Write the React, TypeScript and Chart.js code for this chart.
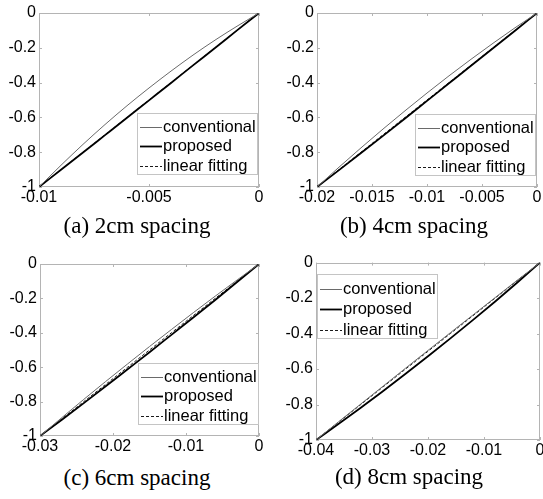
import React, { useEffect, useRef } from "react";
import { Chart, registerables } from "chart.js";
Chart.register(...registerables);

const seriesLabels = ["conventional", "proposed", "linear fitting"];
const yTicks = [-1, -0.8, -0.6, -0.4, -0.2, 0];
const yTickLabels = ["-1", "-0.8", "-0.6", "-0.4", "-0.2", "0"];
const captions = ["(a) 2cm spacing", "(b) 4cm spacing", "(c) 6cm spacing", "(d) 8cm spacing"];

// (a) 2cm
const xA = [-0.01, -0.009, -0.008, -0.007, -0.006, -0.005, -0.004, -0.003, -0.002, -0.001, 0];
const convA = [-1, -0.875, -0.755, -0.641, -0.533, -0.431, -0.334, -0.242, -0.156, -0.076, 0];
const propA = [-1, -0.901, -0.802, -0.702, -0.602, -0.502, -0.402, -0.301, -0.201, -0.1, 0];
const linA = [-1, -0.9, -0.8, -0.7, -0.6, -0.5, -0.4, -0.3, -0.2, -0.1, 0];
const xTicksA = [-0.01, -0.005, 0];
const xTickLabelsA = ["-0.01", "-0.005", "0"];

// (b) 4cm
const xB = [-0.02, -0.018, -0.016, -0.014, -0.012, -0.01, -0.008, -0.006, -0.004, -0.002, 0];
const convB = [-1, -0.886, -0.775, -0.667, -0.562, -0.46, -0.361, -0.266, -0.174, -0.085, 0];
const propB = [-1, -0.903, -0.805, -0.706, -0.606, -0.505, -0.404, -0.303, -0.203, -0.102, 0];
const linB = [-1, -0.9, -0.8, -0.7, -0.6, -0.5, -0.4, -0.3, -0.2, -0.1, 0];
const xTicksB = [-0.02, -0.015, -0.01, -0.005, 0];
const xTickLabelsB = ["-0.02", "-0.015", "-0.01", "-0.005", "0"];

// (c) 6cm
const xC = [-0.03, -0.027, -0.024, -0.021, -0.018, -0.015, -0.012, -0.009, -0.006, -0.003, 0];
const convC = [-1, -0.893, -0.787, -0.683, -0.581, -0.48, -0.381, -0.283, -0.187, -0.093, 0];
const propC = [-1, -0.905, -0.809, -0.711, -0.612, -0.513, -0.412, -0.311, -0.209, -0.105, 0];
const linC = [-1, -0.9, -0.8, -0.7, -0.6, -0.5, -0.4, -0.3, -0.2, -0.1, 0];
const xTicksC = [-0.03, -0.02, -0.01, 0];
const xTickLabelsC = ["-0.03", "-0.02", "-0.01", "0"];

// (d) 8cm
const xD = [-0.04, -0.036, -0.032, -0.028, -0.024, -0.02, -0.016, -0.012, -0.008, -0.004, 0];
const convD = [-1, -0.898, -0.797, -0.696, -0.595, -0.495, -0.395, -0.296, -0.197, -0.098, 0];
const propD = [-1, -0.91, -0.818, -0.724, -0.627, -0.528, -0.427, -0.324, -0.219, -0.111, 0];
const linD = [-1, -0.9, -0.8, -0.7, -0.6, -0.5, -0.4, -0.3, -0.2, -0.1, 0];
const xTicksD = [-0.04, -0.03, -0.02, -0.01, 0];
const xTickLabelsD = ["-0.04", "-0.03", "-0.02", "-0.01", "0"];

const SANS = "'Liberation Sans', Arial, Helvetica, sans-serif";
const BOX = "#b4b4b4";

const boxPlugin = {
  id: "mbox",
  beforeDatasetsDraw(chart: any) {
    const { ctx, chartArea, scales } = chart;
    const { left, right, top, bottom } = chartArea;
    ctx.save();
    ctx.strokeStyle = BOX;
    ctx.lineWidth = 1;
    ctx.strokeRect(Math.round(left) + 0.5, Math.round(top) + 0.5, Math.round(right - left) - 1, Math.round(bottom - top) - 1);
    const tl = 3;
    ctx.beginPath();
    scales.x.ticks.forEach((t: any) => {
      const px = Math.round(scales.x.getPixelForValue(t.value)) + 0.5;
      ctx.moveTo(px, bottom);
      ctx.lineTo(px, bottom - tl);
      ctx.moveTo(px, top);
      ctx.lineTo(px, top + tl);
    });
    scales.y.ticks.forEach((t: any) => {
      const py = Math.round(scales.y.getPixelForValue(t.value)) + 0.5;
      ctx.moveTo(left, py);
      ctx.lineTo(left + tl, py);
      ctx.moveTo(right, py);
      ctx.lineTo(right - tl, py);
    });
    ctx.stroke();
    ctx.restore();
  },
};

const legendPlugin = {
  id: "mlegend",
  afterDatasetsDraw(chart: any, _args: any, opts: any) {
    const { ctx, chartArea } = chart;
    const { corner, ix, iy, w, h, first, step } = opts;
    const bx = Math.round(corner === "se" ? chartArea.right - ix - w : chartArea.left + ix);
    const by = Math.round(corner === "se" ? chartArea.bottom - iy - h : chartArea.top + iy);
    ctx.save();
    ctx.fillStyle = "#ffffff";
    ctx.fillRect(bx, by, w, h);
    ctx.strokeStyle = "#c4c4c4";
    ctx.lineWidth = 1;
    ctx.strokeRect(bx + 0.5, by + 0.5, w, h);
    ctx.font = `16.5px ${SANS}`;
    ctx.textBaseline = "middle";
    chart.data.datasets.forEach((ds: any, i: number) => {
      const cy = Math.round(by + first + i * step) + 0.5;
      ctx.strokeStyle = ds.borderColor;
      ctx.lineWidth = ds.borderWidth;
      ctx.setLineDash(ds.borderDash || []);
      ctx.beginPath();
      ctx.moveTo(bx + 3, cy);
      ctx.lineTo(bx + 25, cy);
      ctx.stroke();
      ctx.setLineDash([]);
      ctx.fillStyle = "#000";
      ctx.fillText(ds.label, bx + 26, cy);
    });
    ctx.restore();
  },
};

type Area = { l: number; t: number; r: number; b: number };
type LegendOpts = { corner: "se" | "nw"; ix: number; iy: number; w: number; h: number; first: number; step: number };
type PanelProps = {
  xs: number[];
  conv: number[];
  prop: number[];
  lin: number[];
  xTicks: number[];
  xTickLabels: string[];
  left: number;
  top: number;
  width: number;
  height: number;
  area: Area;
  legend: LegendOpts;
};

function Panel(p: PanelProps) {
  const ref = useRef<HTMLCanvasElement | null>(null);
  useEffect(() => {
    if (!ref.current) return;
    const mk = (ys: number[]) => p.xs.map((x, i) => ({ x, y: ys[i] }));
    const chart = new Chart(ref.current, {
      type: "line",
      data: {
        datasets: [
          { label: seriesLabels[0], data: mk(p.conv), borderColor: "#6a6a6a", borderWidth: 1, pointRadius: 0, cubicInterpolationMode: "monotone" },
          { label: seriesLabels[1], data: mk(p.prop), borderColor: "#000000", borderWidth: 1.8, pointRadius: 0, cubicInterpolationMode: "monotone" },
          { label: seriesLabels[2], data: mk(p.lin), borderColor: "#1a1a1a", borderWidth: 1, borderDash: [3, 2], pointRadius: 0 },
        ] as any,
      },
      options: {
        responsive: false,
        animation: false,
        events: [],
        layout: { padding: { top: p.area.t, right: p.width - p.area.r, left: 0, bottom: 0 } },
        plugins: {
          legend: { display: false },
          tooltip: { enabled: false },
          mlegend: p.legend,
        } as any,
        scales: {
          x: {
            type: "linear",
            min: p.xs[0],
            max: p.xs[p.xs.length - 1],
            afterBuildTicks: (s: any) => {
              s.ticks = p.xTicks.map((v) => ({ value: v }));
            },
            afterFit: (s: any) => {
              s.height = p.height - p.area.b;
            },
            grid: { display: false, drawTicks: false },
            border: { display: false },
            ticks: {
              autoSkip: false,
              maxRotation: 0,
              padding: 1,
              color: "#000",
              font: { family: SANS, size: 16 },
              callback: (_v: any, i: number) => p.xTickLabels[i],
            },
          },
          y: {
            type: "linear",
            min: yTicks[0],
            max: yTicks[yTicks.length - 1],
            afterBuildTicks: (s: any) => {
              s.ticks = yTicks.map((v) => ({ value: v }));
            },
            afterFit: (s: any) => {
              s.width = p.area.l;
            },
            grid: { display: false, drawTicks: false },
            border: { display: false },
            ticks: {
              padding: 3,
              color: "#000",
              font: { family: SANS, size: 16 },
              callback: (_v: any, i: number) => yTickLabels[i],
            },
          },
        } as any,
      },
      plugins: [boxPlugin, legendPlugin],
    });
    return () => chart.destroy();
  }, []);
  return (
    <canvas
      ref={ref}
      width={p.width}
      height={p.height}
      style={{ position: "absolute", left: p.left, top: p.top, width: p.width, height: p.height }}
    />
  );
}

const captionStyle = (cx: number, top: number): React.CSSProperties => ({
  position: "absolute",
  left: cx - 150,
  top,
  width: 300,
  textAlign: "center",
  fontFamily: "'Liberation Serif', 'Times New Roman', Times, serif",
  fontSize: 23,
  lineHeight: "23px",
  color: "#000",
  whiteSpace: "nowrap",
});

export default function App() {
  const seLegend: LegendOpts = { corner: "se", ix: 2, iy: 13, w: 120, h: 61, first: 13.5, step: 19.5 };
  return (
    <div style={{ position: "absolute", left: 0, top: 0, width: 543, height: 499, overflow: "hidden", background: "#fff" }}>
      <Panel xs={xA} conv={convA} prop={propA} lin={linA} xTicks={xTicksA} xTickLabels={xTickLabelsA}
        left={0} top={0} width={272} height={215} area={{ l: 39, t: 13, r: 259, b: 187 }} legend={seLegend} />
      <Panel xs={xB} conv={convB} prop={propB} lin={linB} xTicks={xTicksB} xTickLabels={xTickLabelsB}
        left={272} top={0} width={282} height={215} area={{ l: 45, t: 13, r: 265, b: 187 }} legend={{ ...seLegend, ix: 2, iy: 12 }} />
      <Panel xs={xC} conv={convC} prop={propC} lin={linC} xTicks={xTicksC} xTickLabels={xTickLabelsC}
        left={0} top={250} width={272} height={215} area={{ l: 40, t: 14, r: 259, b: 186 }} legend={{ ...seLegend, ix: 1, iy: 12 }} />
      <Panel xs={xD} conv={convD} prop={propD} lin={linD} xTicks={xTicksD} xTickLabels={xTickLabelsD}
        left={272} top={250} width={282} height={215} area={{ l: 44, t: 12, r: 268, b: 190 }}
        legend={{ corner: "nw", ix: 1, iy: 11, w: 120, h: 64, first: 14.5, step: 20.5 }} />
      <div style={captionStyle(137, 214)}>{captions[0]}</div>
      <div style={captionStyle(414, 214)}>{captions[1]}</div>
      <div style={captionStyle(137, 466)}>{captions[2]}</div>
      <div style={captionStyle(409, 465)}>{captions[3]}</div>
    </div>
  );
}
